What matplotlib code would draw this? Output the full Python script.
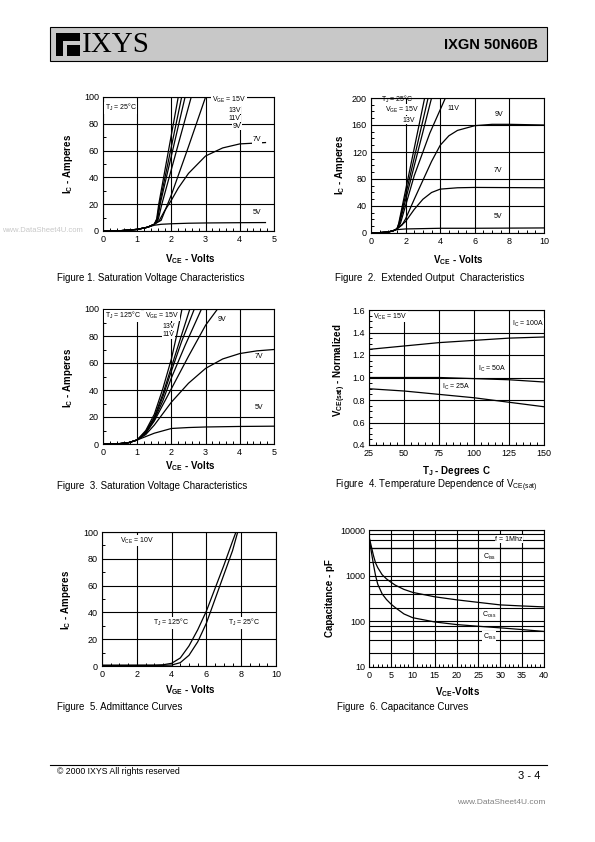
import matplotlib.pyplot as plt
from matplotlib.patches import Rectangle
from matplotlib.ticker import MultipleLocator, FixedLocator, NullFormatter

plt.rcParams['font.family'] = ['Liberation Sans', 'DejaVu Sans']
plt.rcParams['mathtext.default'] = 'regular'

# ---- data ----
# Fig 1: saturation voltage, Tj = 25C (V_CE in V, I_C in A)
f1_c1_v = [0, 0.5, 1.0, 1.3, 1.5, 1.57, 1.63, 2.2]
f1_c1_i = [0, 0.2, 1.2, 2.8, 5, 9, 20, 100]
f1_c2_v = [0, 0.5, 1.0, 1.3, 1.5, 1.58, 1.65, 2.3]
f1_c2_i = [0, 0.2, 1.2, 2.8, 5, 9, 20, 100]
f1_c3_v = [0, 0.5, 1.0, 1.3, 1.5, 1.6, 1.67, 2.4]
f1_c3_i = [0, 0.2, 1.2, 2.8, 5, 9, 20, 100]
f1_c4_v = [0, 0.5, 1.0, 1.3, 1.5, 1.62, 1.72, 2.58]
f1_c4_i = [0, 0.2, 1.2, 2.8, 5, 9, 20, 100]
f1_9v_v = [0, 0.5, 1.0, 1.3, 1.5, 1.7, 2.0, 2.5, 3.0]
f1_9v_i = [0, 0.2, 1.2, 2.8, 5, 8, 27, 63, 100]
f1_7v_v = [0, 0.5, 1.0, 1.3, 1.5, 1.65, 1.8, 2.0, 2.2, 2.5, 3.0, 3.5, 4.0, 4.75]
f1_7v_i = [0, 0.2, 1.2, 2.8, 5, 8, 15, 23, 32, 43, 56, 62, 65, 66]
f1_5v_v = [0, 0.5, 1.0, 1.3, 1.5, 1.7, 2.0, 2.5, 3.0, 4.0, 4.75]
f1_5v_i = [0, 0.2, 1.2, 2.8, 4.3, 5, 5.4, 5.8, 6, 6.2, 6.3]

# Fig 2: extended output, Tj = 25C
f2_c1_v = [0, 0.5, 1.0, 1.3, 1.5, 1.6, 3.1]
f2_c1_i = [0, 0.5, 1.5, 3.5, 6, 14, 200]
f2_c2_v = [0, 0.5, 1.0, 1.3, 1.5, 1.62, 3.3]
f2_c2_i = [0, 0.5, 1.5, 3.5, 6, 14, 200]
f2_c3_v = [0, 0.5, 1.0, 1.3, 1.5, 1.65, 3.5]
f2_c3_i = [0, 0.5, 1.5, 3.5, 6, 14, 200]
f2_11v_v = [0, 0.5, 1.0, 1.3, 1.5, 1.7, 2.5, 3.4, 4.3]
f2_11v_i = [0, 0.5, 1.5, 3.5, 6, 14, 85, 148, 200]
f2_9v_v = [0, 0.5, 1.0, 1.3, 1.5, 1.8, 2.0, 2.5, 3.0, 3.5, 4.0, 4.5, 5.0, 6.0, 7.0, 8.0, 10.0]
f2_9v_i = [0, 0.5, 1.5, 3.5, 6, 12, 21, 50, 78, 106, 130, 144, 152, 159, 161, 161, 160]
f2_7v_v = [0, 0.5, 1.0, 1.3, 1.5, 2.0, 2.5, 3.0, 3.5, 4.0, 5.0, 6.0, 10.0]
f2_7v_i = [0, 0.5, 1.5, 3.5, 6, 17, 35, 50, 60, 65, 67, 67.5, 67]
f2_5v_v = [0, 0.5, 1.0, 1.3, 1.5, 2.0, 3.0, 4.0, 6.0, 10.0]
f2_5v_i = [0, 0.5, 1.5, 3.5, 5, 6, 6.5, 7, 7, 7.5]

# Fig 3: saturation voltage, Tj = 125C
f3_c1_v = [0, 0.5, 0.75, 1.0, 1.25, 1.5, 1.75, 2.0, 2.15, 2.31]
f3_c1_i = [0, 0.3, 1.0, 3, 10, 22, 41, 63, 80, 100]
f3_c2_v = [0, 0.5, 0.75, 1.0, 1.25, 1.5, 1.75, 2.0, 2.25, 2.54]
f3_c2_i = [0, 0.3, 1.0, 3, 9, 20, 37, 57, 77, 100]
f3_c3_v = [0, 0.5, 0.75, 1.0, 1.25, 1.5, 1.75, 2.0, 2.3, 2.67]
f3_c3_i = [0, 0.3, 1.0, 3, 9, 19, 35, 54, 76, 100]
f3_c4_v = [0, 0.5, 0.75, 1.0, 1.25, 1.5, 1.75, 2.0, 2.4, 2.88]
f3_c4_i = [0, 0.3, 1.0, 3, 8, 18, 32, 49, 73, 100]
f3_9v_v = [0, 0.5, 0.75, 1.0, 1.25, 1.5, 2.0, 2.5, 3.0, 3.35]
f3_9v_i = [0, 0.3, 1.0, 3, 8, 17, 41, 65, 88, 100]
f3_7v_v = [0, 0.5, 0.75, 1.0, 1.25, 1.5, 2.0, 2.5, 3.0, 3.5, 4.0, 4.5, 5.0]
f3_7v_i = [0, 0.3, 1.0, 3, 7, 14, 31, 45, 56, 63, 67, 69, 70]
f3_5v_v = [0, 0.5, 0.75, 1.0, 1.25, 1.5, 2.0, 2.5, 3.0, 4.0, 5.0]
f3_5v_i = [0, 0.3, 1.0, 3, 5.5, 8, 11.5, 12.2, 12.6, 13, 13.2]

# Fig 4: normalized V_CE(sat) vs junction temperature
tj = [25, 50, 75, 100, 125, 150]
vn_100a = [1.25, 1.28, 1.31, 1.33, 1.35, 1.36]
vn_50a = [1.00, 1.00, 1.00, 0.99, 0.98, 0.96]
vn_25a = [0.90, 0.88, 0.85, 0.82, 0.78, 0.74]

# Fig 5: admittance curves, V_CE = 10V
f5_125_v = [0, 3.0, 3.5, 4.0, 4.5, 5.0, 5.5, 6.0, 6.5, 7.0, 7.5, 7.7]
f5_125_i = [0.5, 0.6, 0.9, 2.0, 6, 15, 27, 41, 58, 75, 93, 100]
f5_25_v = [0, 3.5, 4.0, 4.5, 5.0, 5.5, 6.0, 6.5, 7.0, 7.5, 7.8]
f5_25_i = [0.5, 0.5, 0.7, 2.5, 8, 18, 32, 50, 68, 86, 100]

# Fig 6: capacitance (pF) vs V_CE
cap_v = [0, 0.5, 1, 1.5, 2, 3, 4, 5, 6, 8, 10, 15, 20, 25, 30, 35, 40]
c_oss = [7200, 4500, 2800, 1900, 1500, 1050, 850, 720, 620, 500, 430, 345, 296, 260, 229, 217, 207]
c_rss = [7200, 3500, 1800, 1000, 650, 400, 300, 240, 200, 145, 120, 97, 85, 78, 72, 66, 60]
ciss_v = [0, 40]
c_iss = [4000, 4000]

W, H = 595, 842
fig = plt.figure(figsize=(W / 100, H / 100), dpi=100)


def px_axes(x0, x1, y0, y1):
    return fig.add_axes([x0 / W, 1 - y1 / H, (x1 - x0) / W, (y1 - y0) / H])


def ftext(x, y, s, **kw):
    return fig.text(x / W, 1 - y / H, s, **kw)


LW = 0.9
lbl = dict(fontsize=5, bbox=dict(facecolor='white', edgecolor='none', pad=0.3))


def style(ax, xlim, ylim, xmaj, ymaj, xmin=None, ymin=None):
    ax.set_xlim(*xlim)
    ax.set_ylim(*ylim)
    ax.xaxis.set_major_locator(MultipleLocator(xmaj))
    ax.yaxis.set_major_locator(MultipleLocator(ymaj))
    if xmin:
        ax.xaxis.set_minor_locator(MultipleLocator(xmin))
    if ymin:
        ax.yaxis.set_minor_locator(MultipleLocator(ymin))
    ax.grid(True, which='major', color='black', lw=0.8)
    ax.tick_params(which='major', length=0, labelsize=6.5, pad=3)
    ax.tick_params(which='minor', direction='in', length=2.5, width=0.7)
    for s in ax.spines.values():
        s.set_linewidth(0.8)


# ---- header ----
fig.patches.append(Rectangle((50 / W, 1 - 61 / H), 497 / W, 34 / H, transform=fig.transFigure,
                             facecolor='#c8c8c8', edgecolor='black', lw=0.8))
fig.patches.append(Rectangle((56 / W, 1 - 56 / H), 24 / W, 23 / H, transform=fig.transFigure,
                             facecolor='black', edgecolor='none'))
fig.patches.append(Rectangle((63 / W, 1 - 56 / H), 4 / W, 15 / H, transform=fig.transFigure,
                             facecolor='#c8c8c8', edgecolor='none'))
fig.patches.append(Rectangle((67 / W, 1 - 45 / H), 13 / W, 4 / H, transform=fig.transFigure,
                             facecolor='#c8c8c8', edgecolor='none'))
ftext(82, 45, 'IXYS', family='Liberation Serif', fontsize=21, va='center')
ftext(538, 45, 'IXGN 50N60B', fontsize=10.5, fontweight='bold', ha='right', va='center')

# ---- Fig 1 ----
ax1 = px_axes(103, 274, 97, 231)
for v, i in [(f1_c1_v, f1_c1_i), (f1_c2_v, f1_c2_i), (f1_c3_v, f1_c3_i), (f1_c4_v, f1_c4_i),
             (f1_9v_v, f1_9v_i), (f1_7v_v, f1_7v_i), (f1_5v_v, f1_5v_i)]:
    ax1.plot(v, i, color='black', lw=LW, clip_on=True)
style(ax1, (0, 5), (0, 100), 1, 20, 0.2, 10)
ax1.text(0.05, 92, 'T$_J$ = 25°C', ha='left', va='center', **lbl)
ax1.text(3.18, 97.5, 'V$_{GE}$ = 15V', ha='left', va='center', **lbl)
ax1.text(4.02, 90, '13V', ha='right', va='center', **lbl)
ax1.text(4.02, 84, '11V', ha='right', va='center', **lbl)
ax1.text(4.05, 78, '9V', ha='right', va='center', **lbl)
ax1.text(4.5, 68, '7V', ha='center', va='center', **lbl)
ax1.text(4.5, 14, '5V', ha='center', va='center', **lbl)
ftext(190, 259, 'V$_{CE}$ - Volts', fontsize=7, fontweight='bold', ha='center', va='center')
ftext(68, 164, 'I$_C$ - Amperes', fontsize=7, fontweight='bold', ha='center', va='center', rotation=90)
ftext(57, 278, 'Figure 1. Saturation Voltage Characteristics', fontsize=7, va='center')
ftext(2, 231, 'www.DataSheet4U.com', fontsize=5.5, color='#c8c8c8', va='center', zorder=0)

# ---- Fig 2 ----
ax2 = px_axes(371, 544, 98, 233)
for v, i in [(f2_c1_v, f2_c1_i), (f2_c2_v, f2_c2_i), (f2_c3_v, f2_c3_i), (f2_11v_v, f2_11v_i),
             (f2_9v_v, f2_9v_i), (f2_7v_v, f2_7v_i), (f2_5v_v, f2_5v_i)]:
    ax2.plot(v, i, color='black', lw=LW)
style(ax2, (0, 10), (0, 200), 2, 40, 0.5, 10)
ax2.text(0.8, 183, 'V$_{GE}$ = 15V', ha='left', va='center', **lbl)
ax2.text(0.55, 197.5, 'T$_J$ = 25°C', ha='left', va='center', zorder=5, fontsize=5)
ax2.text(1.83, 167, '13V', ha='left', va='center', **lbl)
ax2.text(4.4, 184, '11V', ha='left', va='center', **lbl)
ax2.text(7.4, 176, '9V', ha='center', va='center', **lbl)
ax2.text(7.35, 93, '7V', ha='center', va='center', **lbl)
ax2.text(7.35, 25, '5V', ha='center', va='center', **lbl)
ftext(458, 260, 'V$_{CE}$ - Volts', fontsize=7, fontweight='bold', ha='center', va='center')
ftext(340, 165, 'I$_C$ - Amperes', fontsize=7, fontweight='bold', ha='center', va='center', rotation=90)
ftext(335, 278, 'Figure  2.  Extended Output  Characteristics', fontsize=7, va='center')

# ---- Fig 3 ----
ax3 = px_axes(103, 274, 309, 444)
for v, i in [(f3_c1_v, f3_c1_i), (f3_c2_v, f3_c2_i), (f3_c3_v, f3_c3_i), (f3_c4_v, f3_c4_i),
             (f3_9v_v, f3_9v_i), (f3_7v_v, f3_7v_i), (f3_5v_v, f3_5v_i)]:
    ax3.plot(v, i, color='black', lw=LW)
style(ax3, (0, 5), (0, 100), 1, 20, 0.2, 10)
ax3.text(0.05, 95, 'T$_J$ = 125°C', ha='left', va='center', **lbl)
ax3.text(1.22, 95, 'V$_{GE}$ = 15V', ha='left', va='center', **lbl)
ax3.text(1.75, 87, '13V', ha='left', va='center', **lbl)
ax3.text(1.75, 81, '11V', ha='left', va='center', **lbl)
ax3.text(3.47, 92, '9V', ha='center', va='center', **lbl)
ax3.text(4.57, 64.6, '7V', ha='center', va='center', **lbl)
ax3.text(4.57, 27, '5V', ha='center', va='center', **lbl)
ftext(190, 466, 'V$_{CE}$ - Volts', fontsize=7, fontweight='bold', ha='center', va='center')
ftext(68, 378, 'I$_C$ - Amperes', fontsize=7, fontweight='bold', ha='center', va='center', rotation=90)
ftext(57, 486, 'Figure  3. Saturation Voltage Characteristics', fontsize=7, va='center')

# ---- Fig 4 ----
ax4 = px_axes(369, 544, 310, 445)
for vn in (vn_100a, vn_50a, vn_25a):
    ax4.plot(tj, vn, color='black', lw=LW)
style(ax4, (25, 150), (0.4, 1.6), 25, 0.2, 5, 0.05)
ax4.yaxis.set_major_formatter(plt.FormatStrFormatter('%.1f'))
ax4.text(28, 1.538, 'V$_{CE}$ = 15V', ha='left', va='center', **lbl)
ax4.text(127, 1.476, 'I$_C$ = 100A', ha='left', va='center', **lbl)
ax4.text(103, 1.076, 'I$_C$ = 50A', ha='left', va='center', **lbl)
ax4.text(77, 0.916, 'I$_C$ = 25A', ha='left', va='center', **lbl)
ftext(456, 471, 'T$_J$ - Degrees C', fontsize=7, fontweight='bold', ha='center', va='center')
ftext(340, 370, 'V$_{CE (sat)}$ - Normalized', fontsize=7, fontweight='bold', ha='center', va='center',
      rotation=90)
ftext(335, 486, 'Figure  4. Temperature Dependence of V$_{CE(sat)}$', fontsize=7, va='center')

# ---- Fig 5 ----
ax5 = px_axes(102, 276, 532, 666)
ax5.plot(f5_125_v, f5_125_i, color='black', lw=LW)
ax5.plot(f5_25_v, f5_25_i, color='black', lw=LW)
style(ax5, (0, 10), (0, 100), 2, 20, 0.5, 10)
ax5.text(1.03, 93.5, 'V$_{CE}$ = 10V', ha='left', va='center', **lbl)
ax5.text(2.95, 32.3, 'T$_J$ = 125°C', ha='left', va='center', **lbl)
ax5.text(7.25, 32.3, 'T$_J$ = 25°C', ha='left', va='center', **lbl)
ftext(190, 690, 'V$_{GE}$ - Volts', fontsize=7, fontweight='bold', ha='center', va='center')
ftext(66, 600, 'I$_C$ - Amperes', fontsize=7, fontweight='bold', ha='center', va='center', rotation=90)
ftext(57, 707, 'Figure  5. Admittance Curves', fontsize=7, va='center')

# ---- Fig 6 ----
ax6 = px_axes(369, 544, 530, 667)
ax6.plot(ciss_v, c_iss, color='black', lw=LW)
ax6.plot(cap_v, c_oss, color='black', lw=LW)
ax6.plot(cap_v, c_rss, color='black', lw=LW)
ax6.set_yscale('log')
style(ax6, (0, 40), (10, 10000), 5, 10, 1, None)
ax6.yaxis.set_major_locator(FixedLocator([10, 100, 1000, 10000]))
ax6.yaxis.set_major_formatter(plt.FormatStrFormatter('%d'))
ax6.yaxis.set_minor_locator(FixedLocator([20, 40, 60, 80, 200, 400, 600, 800, 2000, 4000, 6000, 8000]))
ax6.yaxis.set_minor_formatter(NullFormatter())
ax6.grid(True, which='minor', axis='y', color='black', lw=0.8)
ax6.tick_params(axis='y', which='minor', length=0)
ax6.text(32, 6300, 'f = 1Mhz', ha='center', va='center', **lbl)
ax6.text(27.5, 2600, 'C$_{iss}$', ha='center', va='center', **lbl)
ax6.text(27.5, 138, 'C$_{oss}$', ha='center', va='center', **lbl)
ax6.text(27.5, 46, 'C$_{rss}$', ha='center', va='center', **lbl)
ftext(458, 692, 'V$_{CE}$-Volts', fontsize=7, fontweight='bold', ha='center', va='center')
ftext(330, 598, 'Capacitance - pF', fontsize=7, fontweight='bold', ha='center', va='center', rotation=90)
ftext(337, 707, 'Figure  6. Capacitance Curves', fontsize=7, va='center')

# ---- footer ----
fig.add_artist(plt.Line2D([50 / W, 547 / W], [1 - 765 / H, 1 - 765 / H], color='black', lw=0.8))
ftext(57, 772, '© 2000 IXYS All rights reserved', fontsize=6.3, va='center')
ftext(540, 776, '3 - 4', fontsize=8, ha='right', va='center')
ftext(545, 803, 'www.DataSheet4U.com', fontsize=6, color='#808080', ha='right', va='center')

fig.savefig('out.png', dpi=100, facecolor='white')
